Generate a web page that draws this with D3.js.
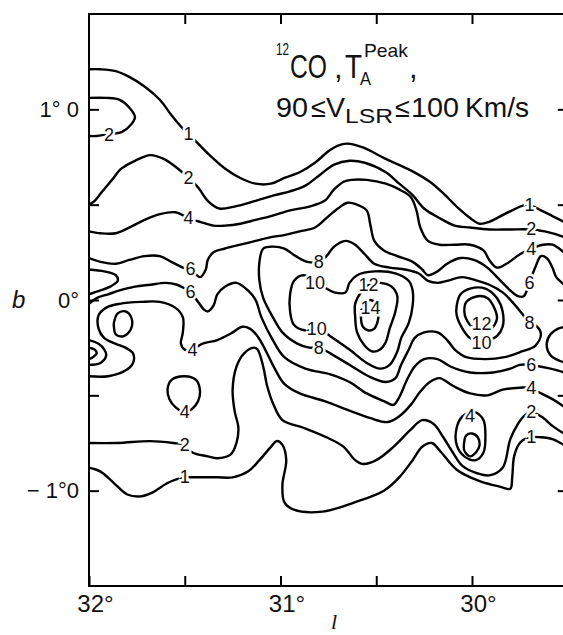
<!DOCTYPE html>
<html>
<head>
<meta charset="utf-8">
<script src="https://cdn.jsdelivr.net/npm/d3@7"></script>
<style>
body { margin: 0; background: #fff; }
svg { display: block; }
text { font-family: "Liberation Sans", Arial, sans-serif; fill: #111; }
</style>
</head>
<body>
<svg id="chart" width="563" height="635"></svg>
<script>
// contour lines, every point is [l, b] in degrees
const c1Upper = [[32.00,1.21],[31.94,1.21],[31.86,1.20],[31.79,1.17],[31.71,1.12],[31.63,1.05],[31.57,0.97],[31.52,0.91],[31.48,0.87],[31.43,0.82],[31.37,0.76],[31.29,0.69],[31.21,0.64],[31.13,0.61],[31.05,0.61],[30.98,0.64],[30.90,0.67],[30.82,0.72],[30.75,0.78],[30.70,0.81],[30.65,0.82],[30.57,0.80],[30.45,0.74],[30.32,0.68],[30.22,0.62],[30.14,0.55],[30.07,0.48],[30.01,0.43],[29.96,0.40],[29.91,0.41],[29.85,0.44],[29.79,0.47],[29.71,0.50],[29.64,0.47],[29.58,0.44],[29.52,0.41],[29.50,0.40]]
const c2Edge = [[32.00,1.06],[31.91,1.06],[31.84,1.05],[31.79,1.01],[31.76,0.96],[31.78,0.92],[31.83,0.88],[31.90,0.87],[31.96,0.86],[32.00,0.86]]
const c2Upper = [[32.00,0.50],[31.97,0.52],[31.93,0.57],[31.88,0.63],[31.83,0.69],[31.76,0.73],[31.68,0.76],[31.61,0.74],[31.55,0.70],[31.48,0.64],[31.43,0.59],[31.38,0.52],[31.32,0.48],[31.24,0.49],[31.13,0.52],[31.03,0.55],[30.95,0.57],[30.87,0.60],[30.79,0.66],[30.72,0.71],[30.64,0.73],[30.56,0.72],[30.45,0.67],[30.38,0.61],[30.31,0.55],[30.25,0.48],[30.17,0.43],[30.09,0.39],[30.01,0.38],[29.91,0.37],[29.80,0.37],[29.70,0.37],[29.62,0.36],[29.52,0.33],[29.50,0.32]]
const c4Upper = [[32.00,0.36],[31.94,0.35],[31.86,0.35],[31.79,0.38],[31.71,0.42],[31.63,0.45],[31.55,0.46],[31.48,0.43],[31.42,0.41],[31.35,0.39],[31.29,0.39],[31.21,0.40],[31.13,0.42],[31.05,0.44],[30.95,0.47],[30.85,0.49],[30.77,0.52],[30.72,0.58],[30.67,0.62],[30.63,0.63],[30.55,0.63],[30.45,0.61],[30.38,0.58],[30.32,0.54],[30.29,0.47],[30.27,0.38],[30.23,0.31],[30.17,0.29],[30.09,0.29],[30.01,0.29],[29.94,0.26],[29.91,0.21],[29.87,0.17],[29.82,0.19],[29.75,0.24],[29.69,0.27],[29.63,0.29],[29.58,0.29],[29.52,0.25],[29.50,0.23]]
const c6Upper = [[32.00,0.22],[31.94,0.20],[31.86,0.19],[31.79,0.21],[31.71,0.23],[31.63,0.23],[31.57,0.20],[31.51,0.17],[31.47,0.16],[31.42,0.12],[31.39,0.16],[31.38,0.21],[31.35,0.25],[31.29,0.27],[31.21,0.29],[31.13,0.31],[31.05,0.33],[30.98,0.34],[30.90,0.36],[30.82,0.38],[30.76,0.43],[30.70,0.48],[30.65,0.51],[30.60,0.50],[30.55,0.47],[30.53,0.39],[30.51,0.31],[30.46,0.26],[30.39,0.23],[30.31,0.20],[30.26,0.16],[30.23,0.13],[30.18,0.15],[30.13,0.19],[30.06,0.22],[29.99,0.21],[29.92,0.17],[29.85,0.10],[29.80,0.05],[29.76,0.02],[29.73,0.02],[29.70,0.09],[29.67,0.17],[29.64,0.23],[29.61,0.22],[29.58,0.17],[29.56,0.12],[29.52,0.08],[29.50,0.05]]
const bumpEdge = [[32.00,0.16],[31.92,0.15],[31.86,0.13],[31.85,0.10],[31.89,0.07],[31.94,0.05],[32.00,0.03]]
const c6Lower = [[32.00,-0.02],[31.96,0.01],[31.90,0.03],[31.84,0.05],[31.76,0.07],[31.68,0.08],[31.60,0.09],[31.54,0.08],[31.50,0.06],[31.47,0.04],[31.43,-0.01],[31.40,-0.05],[31.38,-0.06],[31.35,-0.03],[31.33,0.03],[31.29,0.07],[31.23,0.09],[31.17,0.05],[31.13,0.00],[31.10,-0.09],[31.04,-0.21],[30.98,-0.30],[30.87,-0.36],[30.74,-0.39],[30.64,-0.43],[30.55,-0.49],[30.46,-0.53],[30.41,-0.55],[30.38,-0.51],[30.34,-0.42],[30.30,-0.35],[30.25,-0.31],[30.18,-0.31],[30.11,-0.35],[30.01,-0.38],[29.89,-0.38],[29.80,-0.36],[29.75,-0.34],[29.70,-0.34],[29.64,-0.35],[29.59,-0.36],[29.52,-0.38],[29.50,-0.39]]
const c8Loop = [[30.80,-0.25],[30.74,-0.28],[30.64,-0.34],[30.54,-0.40],[30.45,-0.43],[30.40,-0.41],[30.37,-0.34],[30.33,-0.26],[30.30,-0.20],[30.25,-0.17],[30.18,-0.17],[30.13,-0.21],[30.09,-0.26],[30.03,-0.30],[29.93,-0.31],[29.83,-0.30],[29.74,-0.27],[29.67,-0.24],[29.64,-0.18],[29.66,-0.14],[29.70,-0.12],[29.74,-0.07],[29.79,-0.01],[29.84,0.04],[29.91,0.08],[29.97,0.10],[30.05,0.12],[30.13,0.10],[30.18,0.09],[30.23,0.10],[30.28,0.14],[30.35,0.16],[30.43,0.17],[30.51,0.19],[30.56,0.24],[30.61,0.29],[30.66,0.31],[30.72,0.28],[30.76,0.23],[30.80,0.20],[30.86,0.20],[30.92,0.23],[30.98,0.27],[31.04,0.28],[31.09,0.27],[31.11,0.20],[31.11,0.10],[31.09,0.01],[31.04,-0.09],[30.99,-0.17],[30.91,-0.23],[30.85,-0.25]]
const c10West = [[30.80,-0.15],[30.74,-0.19],[30.64,-0.26],[30.55,-0.33],[30.48,-0.36],[30.43,-0.34],[30.39,-0.27],[30.37,-0.20],[30.33,-0.12],[30.31,-0.03],[30.31,0.05],[30.33,0.10],[30.40,0.14],[30.51,0.15],[30.60,0.13],[30.64,0.09],[30.66,0.04],[30.72,0.04],[30.76,0.06],[30.81,0.09],[30.88,0.13],[30.93,0.10],[30.95,0.03],[30.95,-0.06],[30.93,-0.13],[30.87,-0.16]]
const c12West = [[30.54,0.08],[30.48,0.09],[30.42,0.07],[30.39,0.02],[30.40,-0.06],[30.43,-0.15],[30.45,-0.22],[30.48,-0.26],[30.52,-0.27],[30.56,-0.24],[30.60,-0.17],[30.61,-0.09],[30.61,-0.02],[30.58,0.04]]
const c14Peak = [[30.53,0.00],[30.57,-0.02],[30.58,-0.08],[30.57,-0.14],[30.54,-0.16],[30.51,-0.15],[30.49,-0.10],[30.49,-0.05],[30.51,-0.01]]
const c10East = [[30.08,-0.03],[30.06,0.03],[30.01,0.06],[29.93,0.06],[29.87,0.01],[29.84,-0.06],[29.84,-0.14],[29.87,-0.19],[29.91,-0.21],[29.95,-0.22],[30.01,-0.20],[30.05,-0.15],[30.08,-0.08]]
const c12East = [[30.04,-0.06],[30.03,-0.01],[29.97,0.02],[29.92,0.01],[29.88,-0.05],[29.87,-0.10],[29.90,-0.15],[29.95,-0.15],[30.00,-0.14],[30.03,-0.10]]
const eastEdgeLoop = [[29.50,-0.14],[29.55,-0.15],[29.59,-0.18],[29.61,-0.23],[29.59,-0.29],[29.54,-0.32],[29.50,-0.33]]
const c4Lower = [[32.00,-0.40],[31.90,-0.40],[31.81,-0.37],[31.77,-0.33],[31.77,-0.28],[31.81,-0.25],[31.86,-0.23],[31.92,-0.20],[31.95,-0.15],[31.95,-0.08],[31.91,-0.04],[31.84,-0.02],[31.73,-0.01],[31.63,-0.01],[31.55,-0.04],[31.51,-0.09],[31.51,-0.17],[31.52,-0.23],[31.50,-0.26],[31.46,-0.26],[31.41,-0.23],[31.33,-0.21],[31.25,-0.17],[31.20,-0.14],[31.16,-0.15],[31.12,-0.19],[31.08,-0.26],[31.03,-0.36],[30.98,-0.44],[30.90,-0.49],[30.77,-0.53],[30.64,-0.58],[30.53,-0.62],[30.44,-0.64],[30.38,-0.61],[30.32,-0.55],[30.27,-0.48],[30.22,-0.43],[30.17,-0.41],[30.10,-0.45],[30.01,-0.49],[29.92,-0.50],[29.84,-0.47],[29.75,-0.46],[29.70,-0.46],[29.66,-0.48],[29.58,-0.52],[29.52,-0.56],[29.50,-0.58]]
const westEdgeMid = [[32.00,-0.21],[31.95,-0.23],[31.92,-0.26],[31.91,-0.29],[31.94,-0.33],[32.00,-0.34]]
const westEdgeInner = [[32.00,-0.25],[31.97,-0.26],[31.96,-0.28],[31.98,-0.30],[32.00,-0.31]]
const westSmallLoop = [[31.87,-0.12],[31.85,-0.07],[31.81,-0.06],[31.78,-0.09],[31.78,-0.15],[31.82,-0.19],[31.86,-0.18],[31.87,-0.14]]
const c4LoopWest = [[31.59,-0.47],[31.57,-0.42],[31.50,-0.40],[31.44,-0.42],[31.42,-0.48],[31.43,-0.53],[31.46,-0.57],[31.50,-0.59],[31.55,-0.56],[31.58,-0.52]]
const c2Lower = [[32.00,-0.75],[31.85,-0.75],[31.68,-0.74],[31.56,-0.75],[31.50,-0.76],[31.46,-0.80],[31.38,-0.82],[31.33,-0.83],[31.26,-0.81],[31.23,-0.75],[31.22,-0.67],[31.24,-0.58],[31.25,-0.47],[31.23,-0.35],[31.19,-0.28],[31.14,-0.25],[31.12,-0.26],[31.09,-0.35],[31.07,-0.45],[31.04,-0.54],[30.99,-0.63],[30.88,-0.67],[30.76,-0.72],[30.67,-0.77],[30.61,-0.84],[30.57,-0.86],[30.50,-0.84],[30.41,-0.77],[30.32,-0.68],[30.26,-0.63],[30.20,-0.65],[30.15,-0.72],[30.10,-0.80],[30.05,-0.87],[29.97,-0.91],[29.91,-0.92],[29.84,-0.88],[29.80,-0.73],[29.76,-0.65],[29.73,-0.61],[29.69,-0.59],[29.64,-0.61],[29.58,-0.66],[29.52,-0.70],[29.50,-0.71]]
const c1Lower = [[32.00,-0.88],[31.94,-0.90],[31.87,-0.96],[31.80,-1.02],[31.73,-1.03],[31.67,-1.01],[31.59,-0.96],[31.54,-0.94],[31.50,-0.93],[31.45,-0.93],[31.33,-0.93],[31.25,-0.93],[31.17,-0.90],[31.11,-0.84],[31.05,-0.77],[31.02,-0.74],[30.99,-0.76],[30.97,-0.84],[30.99,-0.97],[30.98,-1.06],[30.93,-1.10],[30.78,-1.11],[30.61,-1.06],[30.46,-1.00],[30.38,-0.93],[30.31,-0.84],[30.26,-0.77],[30.21,-0.75],[30.16,-0.80],[30.08,-0.89],[29.96,-0.95],[29.85,-0.98],[29.80,-0.99],[29.79,-0.93],[29.78,-0.82],[29.75,-0.75],[29.70,-0.72],[29.64,-0.72],[29.58,-0.73],[29.52,-0.76],[29.50,-0.77]]
const c4LoopEast = [[30.01,-0.59],[30.05,-0.61],[30.08,-0.67],[30.08,-0.76],[30.04,-0.82],[29.98,-0.84],[29.94,-0.80],[29.93,-0.71],[29.94,-0.63],[29.98,-0.59]]
const innerLoopEast = [[30.00,-0.70],[29.97,-0.72],[29.96,-0.76],[29.98,-0.80],[30.01,-0.82],[30.04,-0.79],[30.04,-0.74],[30.03,-0.71]]

// lines that run into the frame vs closed rings
const openContours = [c1Upper, c2Edge, c2Upper, c4Upper, c6Upper, bumpEdge, c6Lower, eastEdgeLoop, c4Lower, westEdgeMid, westEdgeInner, c2Lower, c1Lower]
const closedContours = [c8Loop, c10West, c12West, c14Peak, c10East, c12East, westSmallLoop, c4LoopWest, c4LoopEast, innerLoopEast]

// contour level labels: [l, b, text]
const contourLabels = [
  [31.48,0.87,"1"], [31.895,0.865,"2"], [31.48,0.64,"2"], [31.48,0.43,"4"], [31.47,0.16,"6"],
  [31.47,0.04,"6"], [31.46,-0.26,"4"], [31.50,-0.59,"4"], [31.50,-0.76,"2"], [31.50,-0.93,"1"],
  [30.80,0.20,"8"], [30.82,0.09,"10"], [30.54,0.08,"12"], [30.53,-0.04,"14"], [30.81,-0.15,"10"], [30.80,-0.25,"8"],
  [29.70,0.50,"1"], [29.69,0.37,"2"], [29.69,0.27,"4"], [29.70,0.09,"6"], [29.70,-0.12,"8"],
  [29.95,-0.125,"12"], [29.95,-0.225,"10"], [29.69,-0.34,"6"], [29.69,-0.46,"4"], [29.69,-0.59,"2"],
  [29.69,-0.72,"1"], [30.01,-0.61,"4"]
]

const lTicks = [32, 31.5, 31, 30.5, 30]
const lTickLabels = ["32°", "", "31°", "", "30°"]
const bTicks = [1, 0.5, 0, -0.5, -1]
const bTickLabels = ["1° 0", "", "0°", "", "− 1°0"]

const svg = d3.select('#chart')
const x = d3.scaleLinear().domain([32, 29.5]).range([89, 567.75])
const y = d3.scaleLinear().domain([-1.5, 1.5]).range([586, 14])

svg.append('defs').append('clipPath').attr('id', 'frame')
    .append('rect')
    .attr('x', x(32)).attr('y', y(1.5))
    .attr('width', x(29.5) - x(32)).attr('height', y(-1.5) - y(1.5))

const openLine = d3.line().x(d => x(d[0])).y(d => y(d[1])).curve(d3.curveCatmullRom.alpha(0.5))
const ringLine = d3.line().x(d => x(d[0])).y(d => y(d[1])).curve(d3.curveCatmullRomClosed.alpha(0.5))

const plot = svg.append('g').attr('clip-path', 'url(#frame)')
plot.selectAll('path.open')
    .data(openContours)
    .enter().append('path')
    .attr('class', 'open')
    .attr('d', openLine)
    .attr('fill', 'none')
    .attr('stroke', '#000')
    .attr('stroke-width', 2.4)
    .attr('stroke-linejoin', 'round')
plot.selectAll('path.ring')
    .data(closedContours)
    .enter().append('path')
    .attr('class', 'ring')
    .attr('d', ringLine)
    .attr('fill', 'none')
    .attr('stroke', '#000')
    .attr('stroke-width', 2.4)

// labels punch a white gap into the line under them
plot.selectAll('text.lvl')
    .data(contourLabels)
    .enter().append('text')
    .attr('class', 'lvl')
    .attr('x', d => x(d[0]))
    .attr('y', d => y(d[1]))
    .attr('text-anchor', 'middle')
    .attr('dominant-baseline', 'central')
    .attr('font-size', 18)
    .attr('stroke', '#fff')
    .attr('stroke-width', 5)
    .attr('paint-order', 'stroke')
    .text(d => d[2])

// axes, ticks pointing inwards
function styleAxis(g) {
    g.select('.domain').remove()
    g.selectAll('line').attr('stroke', '#000').attr('stroke-width', 2)
}
svg.append('g')
    .attr('transform', `translate(0,${y(-1.5)})`)
    .call(d3.axisBottom(x).tickValues(lTicks).tickSizeInner(-10).tickSizeOuter(0).tickPadding(9)
        .tickFormat(d => lTickLabels[lTicks.indexOf(d)]))
    .call(styleAxis)
    .selectAll('text').attr('font-size', 24).attr('dx', 6)
svg.append('g')
    .attr('transform', `translate(0,${y(1.5)})`)
    .call(d3.axisTop(x).tickValues(lTicks.slice(1)).tickSizeInner(-10).tickSizeOuter(0).tickFormat(''))
    .call(styleAxis)
svg.append('g')
    .attr('transform', `translate(${x(32)},0)`)
    .call(d3.axisLeft(y).tickValues(bTicks).tickSizeInner(-10).tickSizeOuter(0).tickPadding(10)
        .tickFormat(d => bTickLabels[bTicks.indexOf(d)]))
    .call(styleAxis)
    .selectAll('text').attr('font-size', 22)
svg.append('g')
    .attr('transform', `translate(${x(29.5)},0)`)
    .call(d3.axisRight(y).tickValues(bTicks).tickSizeInner(-10).tickSizeOuter(0).tickFormat(''))
    .call(styleAxis)

svg.append('rect')
    .attr('x', x(32)).attr('y', y(1.5))
    .attr('width', x(29.5) - x(32)).attr('height', y(-1.5) - y(1.5))
    .attr('fill', 'none').attr('stroke', '#000').attr('stroke-width', 2)

svg.append('text').attr('x', 12).attr('y', 308).attr('font-size', 24).attr('font-style', 'italic').text('b')
svg.append('text').attr('x', 334).attr('y', 629).attr('font-size', 22).attr('font-style', 'italic')
    .attr('text-anchor', 'middle').style('font-family', '"Liberation Serif", serif').text('l')

// title block
const title = svg.append('g')
function put(txt, px, py, size, width) {
    const t = title.append('text').attr('x', px).attr('y', py).attr('font-size', size).text(txt)
    if (width) t.attr('textLength', width).attr('lengthAdjust', 'spacingAndGlyphs')
    return t
}
put('12', 276, 55, 16, 13)
put('CO', 290, 78, 34, 37)
put(',', 334, 78, 31)
put('T', 345, 78, 34, 17)
put('A', 360, 85, 18, 11)
put('Peak', 364, 57, 19, 44)
put(',', 409, 78, 31)
put('90', 276, 117, 28, 32)
put('≤', 311, 117, 27)
put('V', 326, 117, 28, 19)
put('LSR', 345, 123, 20, 48)
put('≤', 395, 117, 27)
put('100', 411, 117, 28, 48)
put('Km/s', 465, 117, 28, 64)
</script>
</body>
</html>
